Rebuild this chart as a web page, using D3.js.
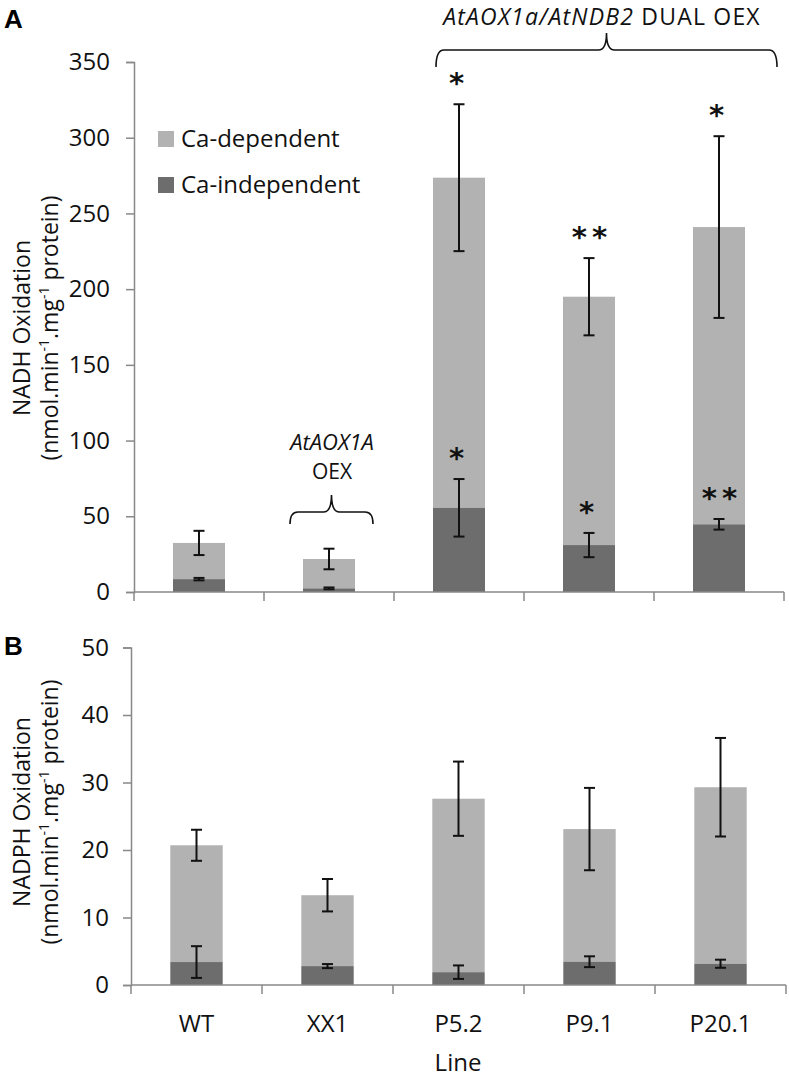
<!DOCTYPE html>
<html>
<head>
<meta charset="utf-8">
<script src="https://cdn.jsdelivr.net/npm/d3@7"></script>
<style>
  body { margin: 0; background: #fff; }
  svg text { font-family: "Open Sans", Lato, sans-serif; }
</style>
</head>
<body>
<div id="chart"></div>
<script>
// NADH / NADPH oxidation, stacked bars (Ca-independent at the bottom)
const lines = ["WT", "XX1", "P5.2", "P9.1", "P20.1"];

// panel A, NADH
const nadhIndep = [8.5, 2.4, 55.6, 31, 44.7];
const nadhIndepErr = [0.8, 0.6, 19, 8, 3.5];
const nadhTotal = [32.4, 21.8, 273.6, 195, 241];
const nadhTotalErr = [8, 6.8, 48.5, 25.5, 60];
const nadhStarsTotal = ["", "", "*", "**", "*"];
const nadhStarsIndep = ["", "", "*", "*", "**"];
const nadhTicks = [0, 50, 100, 150, 200, 250, 300, 350];

// panel B, NADPH
const nadphIndep = [3.4, 2.8, 1.9, 3.45, 3.15];
const nadphIndepErr = [2.35, 0.3, 1.0, 0.8, 0.6];
const nadphTotal = [20.7, 13.3, 27.6, 23.1, 29.3];
const nadphTotalErr = [2.3, 2.4, 5.5, 6.1, 7.3];
const nadphTicks = [0, 10, 20, 30, 40, 50];

const legendItems = ["Ca-dependent", "Ca-independent"];
const colDep = "#b2b2b2", colIndep = "#6d6d6d", axisCol = "#888";
const FONT = "'Open Sans', Lato, sans-serif";

const W = 789, H = 1079;
const svg = d3.select("#chart").append("svg")
  .attr("width", W).attr("height", H);

function panel(cfg) {
  const g = svg.append("g");
  const x = d3.scaleBand().domain(lines)
    .range([cfg.x0, cfg.x1]).paddingInner(0.6).paddingOuter(0.3);
  const y = d3.scaleLinear().domain([0, cfg.max]).range([cfg.yBottom, cfg.yTop]);
  const step = x.step();

  // bars
  g.selectAll(".dep").data(lines).join("rect")
    .attr("x", d => x(d)).attr("width", x.bandwidth())
    .attr("y", (d, i) => y(cfg.total[i]))
    .attr("height", (d, i) => y(cfg.indep[i]) - y(cfg.total[i]))
    .attr("fill", colDep);
  g.selectAll(".indep").data(lines).join("rect")
    .attr("x", d => x(d)).attr("width", x.bandwidth())
    .attr("y", (d, i) => y(cfg.indep[i]))
    .attr("height", (d, i) => y(0) - y(cfg.indep[i]))
    .attr("fill", colIndep);

  // error bars
  function errBars(vals, errs) {
    const eg = g.append("g").attr("stroke", "#111").attr("stroke-width", 2);
    lines.forEach((d, i) => {
      const cx = x(d) + x.bandwidth() / 2;
      const t = y(vals[i] + errs[i]), b = y(vals[i] - errs[i]);
      eg.append("line").attr("x1", cx).attr("x2", cx).attr("y1", t).attr("y2", b);
      eg.append("line").attr("x1", cx - 5.5).attr("x2", cx + 5.5).attr("y1", t).attr("y2", t);
      eg.append("line").attr("x1", cx - 5.5).attr("x2", cx + 5.5).attr("y1", b).attr("y2", b);
    });
  }
  errBars(cfg.total, cfg.totalErr);
  errBars(cfg.indep, cfg.indepErr);

  // y axis
  const ya = g.append("g").attr("transform", `translate(${cfg.x0},0)`)
    .call(d3.axisLeft(y).tickValues(cfg.ticks).tickSize(8).tickPadding(cfg.pad));
  ya.select(".domain").attr("stroke", axisCol).attr("stroke-width", 1.5);
  ya.selectAll(".tick line").attr("stroke", axisCol).attr("stroke-width", 1.5);
  ya.selectAll(".tick text").attr("font-size", 24).attr("fill", "#111")
    .style("font-family", FONT);

  // x axis line + boundary ticks
  g.append("line").attr("x1", cfg.x0).attr("x2", cfg.x1)
    .attr("y1", y(0)).attr("y2", y(0))
    .attr("stroke", axisCol).attr("stroke-width", 1.5);
  const bounds = lines.map(d => x(d) - step * 0.3).concat([cfg.x1]);
  g.selectAll(".xt").data(bounds).join("line")
    .attr("x1", d => d).attr("x2", d => d)
    .attr("y1", y(0)).attr("y2", y(0) + 9)
    .attr("stroke", axisCol).attr("stroke-width", 1.5);

  // y title
  const tt = g.append("text")
    .attr("transform", `translate(30,${cfg.titleY}) rotate(-90)`)
    .attr("text-anchor", "middle").attr("font-size", 23).attr("fill", "#111");
  tt.append("tspan").attr("x", 0).attr("dy", 0).text(cfg.title);
  const t2 = tt.append("tspan").attr("x", 0).attr("dy", 28);
  t2.append("tspan").text("(nmol.min");
  t2.append("tspan").attr("font-size", 14).attr("dy", -9).text("-1");
  t2.append("tspan").attr("dy", 9).text(".mg");
  t2.append("tspan").attr("font-size", 14).attr("dy", -9).text("-1");
  t2.append("tspan").attr("dy", 9).text(" protein)");

  // panel letter
  g.append("text").attr("x", 4).attr("y", cfg.letterY)
    .attr("font-size", 26).attr("font-weight", "bold")
    .style("font-family", "'Liberation Sans', Arial, sans-serif")
    .text(cfg.letter);

  return { x, y };
}

const A = panel({
  x0: 134, x1: 784, yBottom: 592, yTop: 62, max: 350, pad: 16,
  indep: nadhIndep, indepErr: nadhIndepErr,
  total: nadhTotal, totalErr: nadhTotalErr, ticks: nadhTicks,
  title: "NADH Oxidation", titleY: 328, letter: "A", letterY: 28
});
const B = panel({
  x0: 131, x1: 786, yBottom: 985, yTop: 647.5, max: 50, pad: 14,
  indep: nadphIndep, indepErr: nadphIndepErr,
  total: nadphTotal, totalErr: nadphTotalErr, ticks: nadphTicks,
  title: "NADPH Oxidation", titleY: 812, letter: "B", letterY: 655
});

// significance stars (panel A)
function stars(marks, vals, errs) {
  svg.append("g").selectAll("text").data(lines).join("text")
    .attr("x", (d, i) => A.x(d) + A.x.bandwidth() / 2 + (marks[i].length > 1 ? 3 : 0))
    .attr("y", (d, i) => A.y(vals[i] + errs[i]) - 27 + 16)
    .attr("text-anchor", "middle").attr("font-size", 29).attr("font-weight", "bold")
    .attr("letter-spacing", 5).attr("fill", "#111")
    .style("font-family", "'DejaVu Sans', sans-serif")
    .text((d, i) => marks[i]);
}
stars(nadhStarsTotal, nadhTotal, nadhTotalErr);
stars(nadhStarsIndep, nadhIndep, nadhIndepErr);

// x labels (panel B)
svg.append("g").selectAll("text").data(lines).join("text")
  .attr("x", d => B.x(d) + B.x.bandwidth() / 2)
  .attr("y", 1032).attr("text-anchor", "middle")
  .attr("font-size", 24).attr("fill", "#111").text(d => d);
svg.append("text").attr("x", 458).attr("y", 1071)
  .attr("text-anchor", "middle").attr("font-size", 24).attr("fill", "#111")
  .text("Line");

// legend
const lg = svg.append("g").attr("transform", "translate(158,131)");
legendItems.forEach((d, i) => {
  lg.append("rect").attr("x", 0).attr("y", i * 46).attr("width", 16).attr("height", 16)
    .attr("fill", i === 0 ? colDep : colIndep);
  lg.append("text").attr("x", 23).attr("y", i * 46 + 16)
    .attr("font-size", 24).attr("fill", "#111").text(d);
});

// curly braces
function brace(xl, xr, yTip, yMid, yPeak) {
  const xm = (xl + xr) / 2, r = 8;
  const p = `M${xl},${yTip} Q${xl},${yMid} ${xl + r},${yMid}
    L${xm - r},${yMid} Q${xm},${yMid} ${xm},${yPeak}
    Q${xm},${yMid} ${xm + r},${yMid} L${xr - r},${yMid} Q${xr},${yMid} ${xr},${yTip}`;
  svg.append("path").attr("d", p).attr("fill", "none")
    .attr("stroke", "#111").attr("stroke-width", 1.6);
}
brace(A.x("P5.2") + 3, A.x("P20.1") + A.x.bandwidth() + 32, 67, 50, 33);
brace(290, 373, 524, 512, 495);

const t1 = svg.append("text").attr("x", 602).attr("y", 25)
  .attr("text-anchor", "middle").attr("font-size", 23).attr("letter-spacing", 1.2)
  .attr("fill", "#111");
t1.append("tspan").attr("font-style", "italic").text("AtAOX1a/AtNDB2");
t1.append("tspan").text(" DUAL OEX");
svg.append("text").attr("x", 332).attr("y", 450).attr("text-anchor", "middle")
  .attr("font-size", 22).attr("font-style", "italic").attr("fill", "#111").text("AtAOX1A");
svg.append("text").attr("x", 332).attr("y", 479).attr("text-anchor", "middle")
  .attr("font-size", 21).attr("fill", "#111").text("OEX");
</script>
</body>
</html>
